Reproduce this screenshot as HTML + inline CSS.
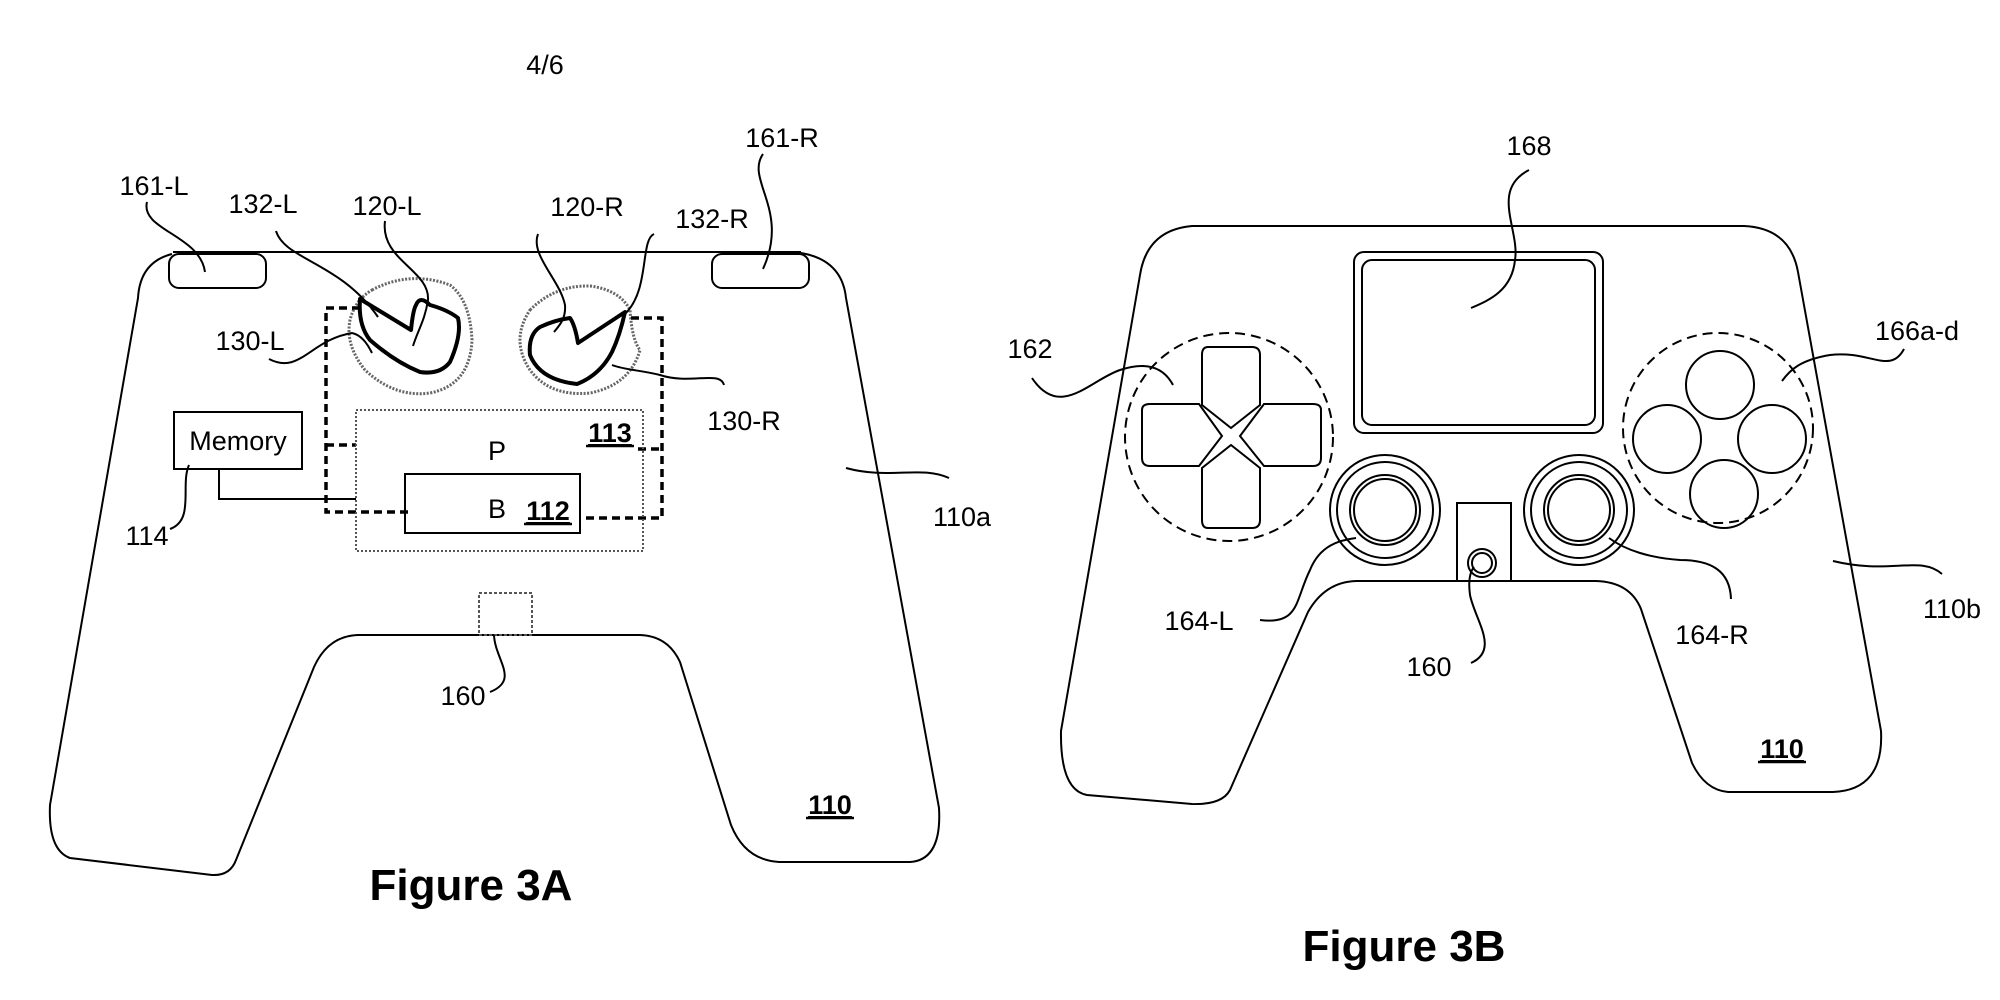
<!DOCTYPE html>
<html><head><meta charset="utf-8"><style>
html,body{margin:0;padding:0;background:#fff;}
svg{display:block;}
text{font-family:"Liberation Sans",sans-serif;fill:#000;}
</style></head><body>
<svg width="2000" height="1000" viewBox="0 0 2000 1000" xmlns="http://www.w3.org/2000/svg">
<g fill="none" stroke="#000" stroke-width="2">
<!-- Figure 3A body -->
<path d="M173,252 L801,252"/>
<path d="M172,254 Q140,262 138,298 L50,805 Q48,850 70,858 L212,875 Q230,876 236,860 L314,667 Q328,636 358,635 L640,635 Q668,636 680,662 L731,825 Q745,860 779,862 L910,862 Q942,860 939,808 L846,298 Q842,260 801,253"/>
<rect x="169" y="254" width="97" height="34" rx="10"/>
<rect x="712" y="254" width="97" height="34" rx="10"/>
<!-- ears -->
<g stroke="#666" stroke-width="3" stroke-dasharray="2 1.5">
<path d="M372,290 Q410,270 450,285 Q470,300 472,340 Q470,385 430,393 Q395,398 365,370 Q345,345 350,320 Q355,300 372,290 Z"/>
<path d="M530,310 Q555,285 590,286 Q620,290 630,310 Q632,340 640,350 Q630,385 590,393 Q550,397 530,370 Q510,340 530,310 Z"/>
</g>
<!-- thick shapes -->
<g stroke-width="4" stroke-linejoin="round">
<path d="M360,299 L411,330 Q413,310 416,305 Q420,295 430,305 Q448,310 458,318 Q462,335 450,362 Q440,375 420,372 Q395,362 370,340 Q358,325 360,299 Z"/>
<path d="M625,312 L578,343 Q575,325 570,318 Q555,320 540,327 Q528,335 530,355 Q540,380 577,384 Q600,375 612,352 Q620,335 625,312 Z"/>
</g>
<!-- thick dashed -->
<g stroke-width="3.5" stroke-dasharray="8 5">
<path d="M360,308 L326,308 L326,512 L412,512"/>
<path d="M631,318 L662,318 L662,518 L580,518"/>
<path d="M326,445 L356,445"/>
<path d="M638,449 L662,449"/>
</g>
<rect x="356" y="410" width="287" height="141" stroke="#555" stroke-dasharray="2 2"/>
<rect x="405" y="474" width="175" height="59"/>
<rect x="174" y="412" width="128" height="57"/>
<path d="M219,469 L219,499 L356,499"/>
<rect x="479" y="593" width="53" height="42" stroke="#555" stroke-dasharray="3 2"/>
<!-- leaders 3A -->
<path d="M147,202 C140,230 200,235 205,272"/>
<path d="M276,231 C285,260 340,262 378,317"/>
<path d="M385,221 C380,260 430,270 428,300 C425,320 418,330 413,346"/>
<path d="M538,234 C530,255 560,280 565,305 C566,318 560,325 554,332"/>
<path d="M654,234 C640,240 650,290 625,314"/>
<path d="M763,154 C745,180 790,210 763,269"/>
<path d="M269,359 C300,375 310,340 352,333 C362,335 368,345 372,353"/>
<path d="M724,385 C720,370 690,385 660,375 C640,370 625,370 612,365"/>
<path d="M949,478 C920,465 890,480 846,468"/>
<path d="M170,529 C195,520 180,485 189,465"/>
<path d="M490,692 C520,680 495,660 494,635"/>
<!-- Figure 3B body -->
<path d="M1192,226 L1744,226 Q1790,228 1798,272 L1881,731 Q1884,790 1833,792 L1728,792 Q1705,790 1692,763 L1641,609 Q1630,582 1596,581 L1356,581 Q1325,582 1308,612 L1230,790 Q1222,805 1192,804 L1087,795 Q1060,790 1061,731 L1140,275 Q1147,230 1192,226 Z"/>
<rect x="1354" y="252" width="249" height="181" rx="10"/>
<rect x="1362" y="260" width="233" height="165" rx="10"/>
<circle cx="1229" cy="437" r="104" stroke-dasharray="10 6"/>
<circle cx="1718" cy="428" r="95" stroke-dasharray="10 6"/>
<!-- dpad -->
<path d="M1208,347 Q1202,347 1202,355 L1202,405 L1231,428 L1260,405 L1260,355 Q1260,347 1252,347 Z"/>
<path d="M1208,528 Q1202,528 1202,520 L1202,468 L1231,445 L1260,468 L1260,520 Q1260,528 1252,528 Z"/>
<path d="M1142,410 Q1142,404 1150,404 L1199,404 L1222,436 L1199,466 L1150,466 Q1142,466 1142,458 Z"/>
<path d="M1321,410 Q1321,404 1313,404 L1264,404 L1240,436 L1264,466 L1313,466 Q1321,466 1321,458 Z"/>
<circle cx="1720" cy="385" r="34"/>
<circle cx="1667" cy="439" r="34"/>
<circle cx="1772" cy="439" r="34"/>
<circle cx="1724" cy="494" r="34"/>
<circle cx="1385" cy="510" r="55"/>
<circle cx="1385" cy="510" r="48"/>
<circle cx="1385" cy="510" r="35"/>
<circle cx="1385" cy="510" r="31"/>
<circle cx="1579" cy="510" r="55"/>
<circle cx="1579" cy="510" r="48"/>
<circle cx="1579" cy="510" r="35"/>
<circle cx="1579" cy="510" r="31"/>
<rect x="1457" y="503" width="54" height="78"/>
<circle cx="1482" cy="563" r="14"/>
<circle cx="1482" cy="563" r="10"/>
<!-- leaders 3B -->
<path d="M1529,170 C1490,190 1520,230 1515,260 C1512,290 1490,300 1471,308"/>
<path d="M1032,378 C1060,420 1090,380 1120,370 C1150,360 1165,370 1173,385"/>
<path d="M1904,349 C1890,375 1870,350 1830,355 C1800,360 1790,370 1782,381"/>
<path d="M1260,620 C1300,625 1295,600 1310,570 C1320,545 1340,540 1356,538"/>
<path d="M1471,663 C1500,650 1475,620 1470,595 C1468,580 1470,572 1474,567"/>
<path d="M1731,599 C1730,570 1710,560 1680,560 C1650,558 1625,550 1609,538"/>
<path d="M1942,574 C1920,555 1890,575 1833,561"/>
</g>
<g font-size="27">
<text x="545" y="74" text-anchor="middle">4/6</text>
<text x="154" y="195" text-anchor="middle">161-L</text>
<text x="263" y="213" text-anchor="middle">132-L</text>
<text x="387" y="215" text-anchor="middle">120-L</text>
<text x="587" y="216" text-anchor="middle">120-R</text>
<text x="712" y="228" text-anchor="middle">132-R</text>
<text x="782" y="147" text-anchor="middle">161-R</text>
<text x="250" y="350" text-anchor="middle">130-L</text>
<text x="744" y="430" text-anchor="middle">130-R</text>
<text x="962" y="526" text-anchor="middle">110a</text>
<text x="147" y="545" text-anchor="middle">114</text>
<text x="463" y="705" text-anchor="middle">160</text>
<text x="238" y="450" text-anchor="middle">Memory</text>
<text x="497" y="460" text-anchor="middle">P</text>
<text x="497" y="518" text-anchor="middle">B</text>
<text x="1529" y="155" text-anchor="middle">168</text>
<text x="1030" y="358" text-anchor="middle">162</text>
<text x="1917" y="340" text-anchor="middle">166a-d</text>
<text x="1199" y="630" text-anchor="middle">164-L</text>
<text x="1429" y="676" text-anchor="middle">160</text>
<text x="1712" y="644" text-anchor="middle">164-R</text>
<text x="1952" y="618" text-anchor="middle">110b</text>
</g>
<g font-size="27" font-weight="bold" text-decoration="underline">
<text x="610" y="442" text-anchor="middle" text-decoration="underline">113</text>
<text x="548" y="520" text-anchor="middle" text-decoration="underline">112</text>
<text x="830" y="814" text-anchor="middle" text-decoration="underline">110</text>
<text x="1782" y="758" text-anchor="middle" text-decoration="underline">110</text>
</g>
<g stroke="#000" stroke-width="2.5">
<line x1="586" y1="446" x2="634" y2="446"/>
<line x1="524" y1="524" x2="572" y2="524"/>
<line x1="806" y1="818" x2="854" y2="818"/>
<line x1="1758" y1="762" x2="1806" y2="762"/>
</g>
<text x="471" y="900" font-size="44" font-weight="bold" text-anchor="middle">Figure 3A</text>
<text x="1404" y="961" font-size="44" font-weight="bold" text-anchor="middle">Figure 3B</text>
</svg>
</body></html>
